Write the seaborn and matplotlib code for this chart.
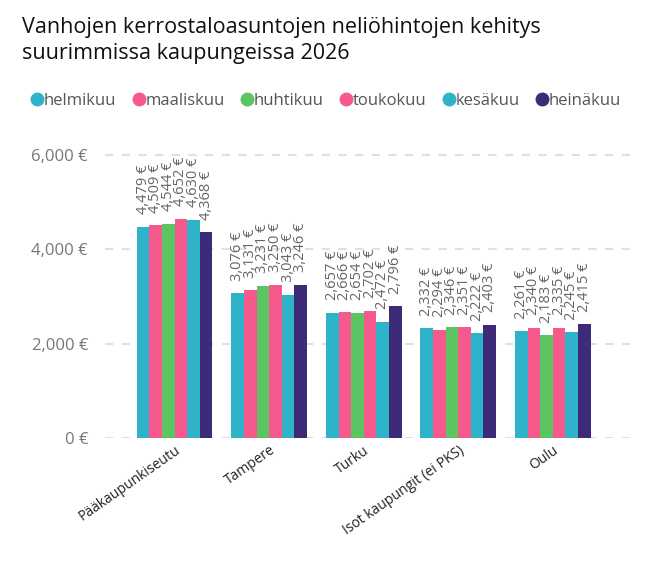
import pandas as pd
import seaborn as sns
import matplotlib.pyplot as plt
from matplotlib.lines import Line2D

# chart values
cities = ["Pääkaupunkiseutu", "Tampere", "Turku", "Isot kaupungit (ei PKS)", "Oulu"]
months = ["helmikuu", "maaliskuu", "huhtikuu", "toukokuu", "kesäkuu", "heinäkuu"]
helmikuu = [4479, 3076, 2657, 2332, 2261]
maaliskuu = [4509, 3131, 2666, 2294, 2340]
huhtikuu = [4544, 3231, 2654, 2346, 2183]
toukokuu = [4652, 3250, 2702, 2351, 2335]
kesakuu = [4630, 3043, 2472, 2222, 2245]
heinakuu = [4368, 3246, 2796, 2403, 2415]
month_colors = ["#2FB3C8", "#F65A8D", "#5CC460", "#F65A8D", "#2FB3C8", "#3D2B7A"]

series = [helmikuu, maaliskuu, huhtikuu, toukokuu, kesakuu, heinakuu]
rows = []
for m, vals in zip(months, series):
    for c, v in zip(cities, vals):
        rows.append({"kaupunki": c, "kuukausi": m, "hinta": v})
df = pd.DataFrame(rows)

sns.set_style("white")
plt.rcParams["font.family"] = ["Open Sans", "DejaVu Sans"]

fig = plt.figure(figsize=(6.67, 5.61), dpi=100)
ax = fig.add_axes([0.157, 0.219, 0.795, 0.531])

sns.barplot(data=df, x="kaupunki", y="hinta", hue="kuukausi", order=cities,
            hue_order=months, palette=month_colors, width=0.8, gap=0,
            saturation=1, errorbar=None, legend=False, linewidth=0, ax=ax)

for cont in ax.containers:
    ax.bar_label(cont, labels=[f"{v:,.0f} €" for v in cont.datavalues],
                 rotation=90, padding=9, fontsize=10.5, color="#666666")

ax.set_ylim(0, 6314)
ax.set_xlim(-0.74, 4.87)
ax.set_yticks([0, 2000, 4000, 6000])
ax.set_yticklabels([f"{v:,} €" for v in [0, 2000, 4000, 6000]], fontsize=12, color="#777777")
ax.yaxis.grid(True, linestyle=(0, (4, 4)), color="#E0E0E0", linewidth=1.5)
ax.set_axisbelow(True)
ax.tick_params(axis="both", length=0)
ax.tick_params(axis="y", pad=12)
for lbl in ax.get_xticklabels():
    lbl.set_rotation(35)
    lbl.set_ha("right")
    lbl.set_rotation_mode("anchor")
    lbl.set_fontsize(10)
    lbl.set_color("#222222")
ax.set_xlabel("")
ax.set_ylabel("")
sns.despine(ax=ax, left=True, bottom=True)

fig.text(0.033, 0.97, "Vanhojen kerrostaloasuntojen neliöhintojen kehitys\nsuurimmissa kaupungeissa 2026",
         fontsize=15.5, color="#111111", va="top", linespacing=1.35)

handles = [Line2D([0], [0], marker="o", linestyle="", markersize=9,
                  markerfacecolor=c, markeredgecolor=c) for c in month_colors]
fig.legend(handles, months, loc="center left", bbox_to_anchor=(0.018, 0.82), ncol=6,
           frameon=False, fontsize=12, handletextpad=-0.2, columnspacing=0.75,
           handlelength=1.2, labelcolor="#555555")

fig.savefig("out.png", dpi=100)
